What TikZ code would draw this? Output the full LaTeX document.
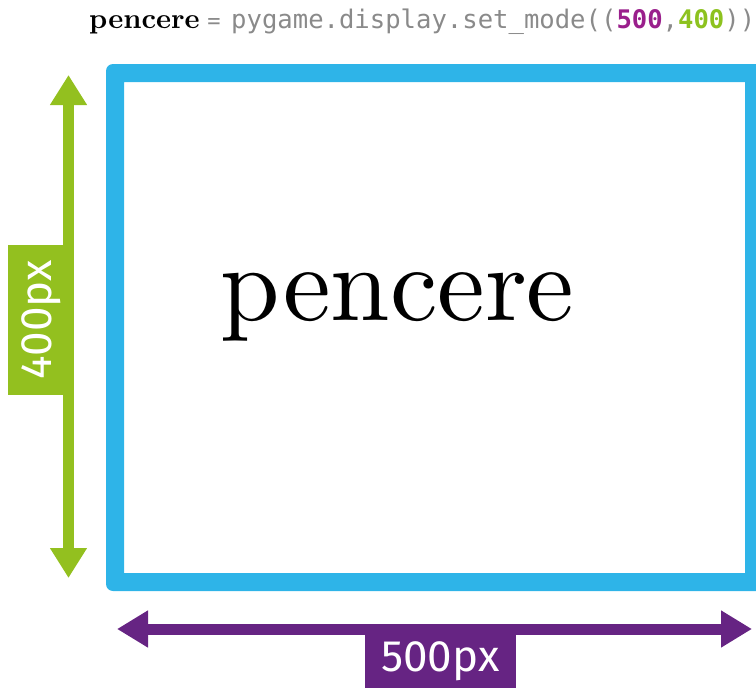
\documentclass[tikz,border=0pt]{standalone}
\usepackage{fontspec}
\usetikzlibrary{arrows.meta}
\newfontfamily\codefont{DejaVu Sans Mono}
\newfontfamily\dimfont{Fira Sans}
\newfontfamily\bigserif{lmroman10-regular.otf}
\newfontfamily\titleserif{lmroman10-bold.otf}
\definecolor{frameblue}{HTML}{2EB4E8}
\definecolor{dimgreen}{HTML}{93C01F}
\definecolor{dimpurple}{HTML}{662483}
\definecolor{codegray}{HTML}{8A8A8A}
\definecolor{numpurple}{HTML}{9A1F8C}
\definecolor{numgreen}{HTML}{8DC21F}
\tikzset{
  dimarrowboth/.style={line width=11pt, {Triangle[length=31pt,width=35pt]}-{Triangle[length=31pt,width=35pt]}},
  dimlabel/.style={inner sep=0pt, text=white, font=\dimfont\fontsize{44}{44}\selectfont, text height=31pt, text depth=0pt},
}
\begin{document}
\begin{tikzpicture}[x=1pt,y=-1pt]
\useasboundingbox (0,0) rectangle (756,688);
\clip (0,0) rectangle (756,688);
% title line
\node[anchor=base west, inner sep=0pt, font=\titleserif\fontsize{28.5}{28.5}\selectfont] (title) at (89,28) {pencere};
\node[anchor=base, inner sep=0pt, text=codegray, font=\codefont\fontsize{22}{22}\selectfont] (eq) at (214,28) {=};
\node[anchor=base west, inner sep=0pt, text=codegray, font=\codefont\fontsize{25.6}{25.6}\selectfont] (code) at (231,28)
  {pygame.display.set\_mode((\textbf{\color{numpurple}500},\textbf{\color{numgreen}400}))};
% window frame
\fill[frameblue, even odd rule]
  [rounded corners=7pt] (106,64) rectangle (780,591)
  [sharp corners] (124,82) rectangle (745,573);
\node[anchor=base, inner sep=0pt, font=\bigserif\fontsize{107}{107}\selectfont] (win) at (397.5,320) {pencere};
% height dimension
\coordinate (htop) at (68.5,75);
\coordinate (hbot) at (68.5,578);
\node[dimlabel, fill=dimgreen, rotate=90, minimum width=150pt, minimum height=56pt] (hlab) at (36,320) {400px};
\draw[dimgreen, line width=11pt, {Triangle[length=30pt,width=35pt]}-{Triangle[length=30pt,width=35pt]}] (htop) -- (hbot);
% width dimension
\coordinate (wleft) at (117,629);
\coordinate (wright) at (752,629);
\draw[dimpurple, dimarrowboth] (wleft) -- (wright);
\node[dimlabel, fill=dimpurple, minimum width=151pt, minimum height=64pt] (wlab) at (440.5,656) {500px};
\end{tikzpicture}
\end{document}
